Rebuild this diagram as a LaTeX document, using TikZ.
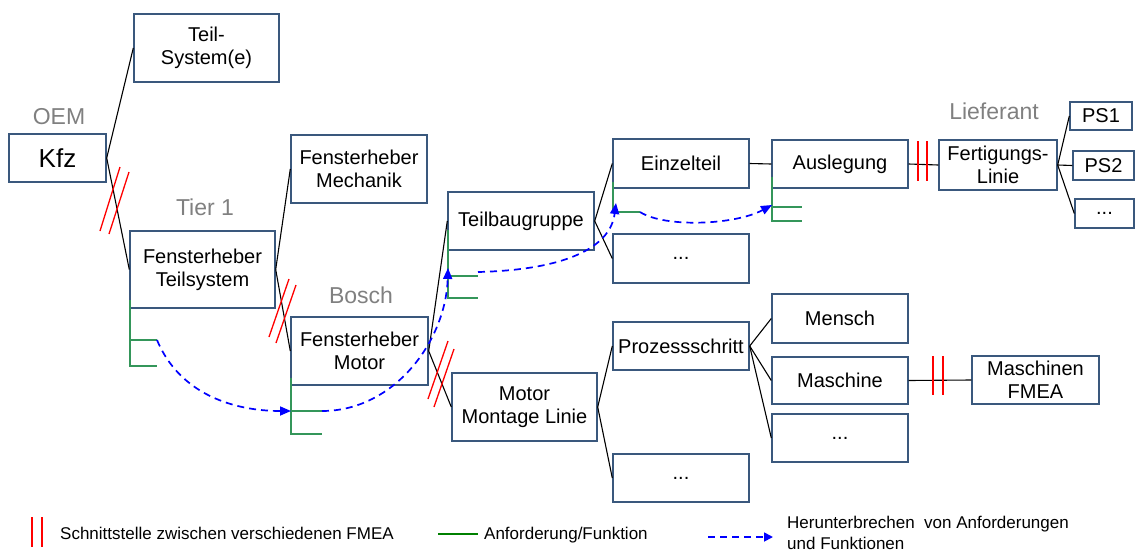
\documentclass[tikz,border=0pt]{standalone}
\usepackage{fontspec}
\setmainfont{Liberation Sans}
\usetikzlibrary{arrows.meta}
\definecolor{boxline}{RGB}{58,88,125}
\definecolor{reqgreen}{RGB}{52,150,90}
\definecolor{leggreen}{RGB}{0,128,0}
\definecolor{lblgray}{RGB}{128,128,128}
\definecolor{brkblue}{RGB}{0,0,255}

\begin{document}
\begin{tikzpicture}[x=1pt,y=-1pt,
  box/.style={draw=boxline, line width=1.4pt, fill=white, inner sep=0pt,
              align=center, font=\fontsize{20}{23}\selectfont},
  lvl/.style={text=lblgray, font=\fontsize{23}{26}\selectfont, inner sep=0pt},
  link/.style={draw=black, line width=1.1pt},
  cut/.style={draw=red, line width=1.3pt},
  req/.style={draw=reqgreen, line width=1.5pt},
  brk/.style={draw=brkblue, line width=1.7pt, dash pattern=on 7pt off 5pt,
              -{Triangle[length=11pt,width=9pt]}},
  legtext/.style={font=\fontsize{17}{21}\selectfont, inner sep=0pt,
                  anchor=west, align=left}
]
\useasboundingbox (0,0) rectangle (1136,552);

% ---------- level labels ----------
\node[lvl] (oem)  at (59,117)  {OEM};
\node[lvl] (tier) at (205,207) {Tier 1};
\node[lvl] (bosch) at (361,295) {Bosch};
\node[lvl] (lief) at (994,111) {Lieferant};

% ---------- structure boxes ----------
\node[box, minimum width=145pt, minimum height=68pt] (tsys) at (206.5,48) {Teil-\\System(e)};
\node[box, minimum width=97pt, minimum height=48pt, font=\fontsize{26}{30}\selectfont] (kfz) at (57.5,158) {Kfz};
\node[box, minimum width=145pt, minimum height=77pt] (fts) at (202.5,269.5) {Fensterheber\\Teilsystem};
\node[box, minimum width=136pt, minimum height=68pt] (fmech) at (359,169) {Fensterheber\\Mechanik};
\node[box, minimum width=137pt, minimum height=68pt] (fmot) at (359.5,351) {Fensterheber\\Motor};
\node[box, minimum width=146pt, minimum height=58pt] (tbg) at (521,221) {Teilbaugruppe};
\node[box, minimum width=136pt, minimum height=49pt] (ezt) at (681,163.5) {Einzelteil};
\node[box, minimum width=136pt, minimum height=49pt] (dotsa) at (681,258.5) {...};
\node[box, minimum width=136pt, minimum height=48pt] (ausl) at (840,164) {Auslegung};
\node[box, minimum width=118pt, minimum height=50pt] (fert) at (998,165) {Fertigungs-\\Linie};
\node[box, minimum width=62pt, minimum height=28pt] (ps1) at (1101,116) {PS1};
\node[box, minimum width=61pt, minimum height=29pt] (ps2) at (1103.5,165.5) {PS2};
\node[box, minimum width=59pt, minimum height=29pt] (psd) at (1104.5,213.5) {...};
\node[box, minimum width=145pt, minimum height=68pt] (mml) at (524.5,407) {Motor\\Montage Linie};
\node[box, minimum width=136pt, minimum height=48pt] (proz) at (681,346) {Prozessschritt};
\node[box, minimum width=136pt, minimum height=48pt] (dotsb) at (681,478) {...};
\node[box, minimum width=136pt, minimum height=49pt] (mensch) at (840,318.5) {Mensch};
\node[box, minimum width=136pt, minimum height=47pt] (masch) at (840,380.5) {Maschine};
\node[box, minimum width=136pt, minimum height=48pt] (dotsc) at (840,438) {...};
\node[box, minimum width=127pt, minimum height=48pt] (mfmea) at (1035.5,380) {Maschinen\\FMEA};

% ---------- tree connectors ----------
\draw[link] (kfz.east) -- (tsys.west);
\draw[link] (kfz.east) -- (fts.west);
\draw[link] (fts.east) -- (fmech.west);
\draw[link] (fts.east) -- (fmot.west);
\draw[link] (fmot.east) -- (tbg.west);
\draw[link] (fmot.east) -- (mml.west);
\draw[link] (tbg.east) -- (ezt.west);
\draw[link] (tbg.east) -- (dotsa.west);
\draw[link] (ezt.east) -- (ausl.west);
\draw[link] (ausl.east) -- (fert.west);
\draw[link] (fert.east) -- (ps1.west);
\draw[link] (fert.east) -- (ps2.west);
\draw[link] (fert.east) -- (psd.west);
\draw[link] (mml.east) -- (proz.west);
\draw[link] (mml.east) -- (dotsb.west);
\draw[link] (proz.east) -- (mensch.west);
\draw[link] (proz.east) -- (masch.west);
\draw[link] (proz.east) -- (dotsc.west);
\draw[link] (masch.east) -- (mfmea.west);

% ---------- interfaces between FMEAs ----------
\draw[cut] (100,231) -- (120,167) (109,234) -- (129,172);
\draw[cut] (269,337) -- (289,279) (276,343) -- (296,285);
\draw[cut] (428,399) -- (448,341) (434,407) -- (454,349);
\draw[cut] (918,141) -- (918,181) (927,141) -- (927,181);
\draw[cut] (933,356) -- (933,395) (943,356) -- (943,395);

% ---------- requirements / functions ----------
\coordinate (ra1) at (157,340);
\coordinate (ra2) at (157,366);
\draw[req] (130,300) -- (130,366) -- (ra2) (130,340) -- (ra1);
\coordinate (rb1) at (291,411);
\coordinate (rb2) at (322,411);
\draw[req] (291,378) -- (291,434) -- (322,434) (rb1) -- (rb2);
\coordinate (rc1) at (448,268);
\coordinate (rc2) at (478,276);
\draw[req] (448,230) -- (448,298) -- (478,298) (448,276) -- (rc2);
\coordinate (rd1) at (616,203);
\coordinate (rd2) at (640,212);
\draw[req] (613,182) -- (613,212) -- (rd2);
\coordinate (re1) at (772,205);
\draw[req] (772,177) -- (772,221) -- (802,221) (772,207) -- (802,207);

% ---------- breakdown of requirements ----------
\draw[brk] (ra1) .. controls (180,395) and (235,411) .. (rb1);
\draw[brk] (rb2) .. controls (395,411) and (446,340) .. (rc1);
\draw[brk] (478,272) .. controls (560,270) and (610,250) .. (rd1);
\draw[brk] (rd2) .. controls (665,228) and (735,225) .. (re1);

% ---------- legend ----------
\draw[cut] (32,517) -- (32,547) (42,517) -- (42,547);
\node[legtext] (lg1) at (60,533) {Schnittstelle zwischen verschiedenen FMEA};
\coordinate (lga) at (438,534);
\coordinate (lgb) at (478,534);
\draw[draw=leggreen, line width=1.5pt] (lga) -- (lgb);
\node[legtext] (lg2) at (484,535) {Anforderung/Funktion};
\coordinate (lgc) at (708,537);
\coordinate (lgd) at (773,537);
\draw[brk, -{Triangle[length=9pt,width=9pt]}] (lgc) -- (lgd);
\node[legtext] (lg3) at (787,532.5) {Herunterbrechen\ \ von Anforderungen\\und Funktionen};
\end{tikzpicture}
\end{document}
